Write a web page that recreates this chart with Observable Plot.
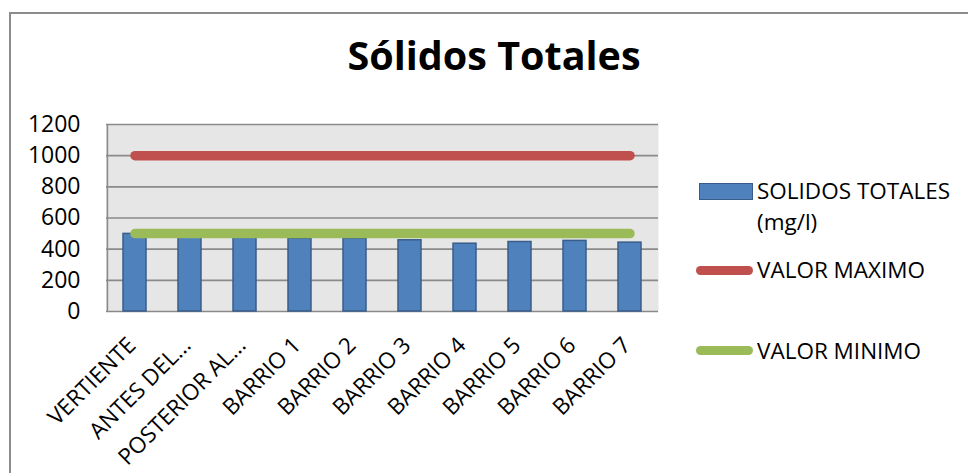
<!DOCTYPE html>
<html>
<head>
<meta charset="utf-8">
<script src="https://cdn.jsdelivr.net/npm/d3@7"></script>
<script src="https://cdn.jsdelivr.net/npm/@observablehq/plot@0.6"></script>
<style>
  html, body { margin: 0; padding: 0; background: #fff; }
  #wrap { position: relative; width: 968px; height: 473px; overflow: hidden; font-family: "Open Sans", Lato, sans-serif; }
  #frame { position: absolute; left: 9px; top: 12px; width: 1000px; height: 500px; border-left: 2px solid #8c8c8c; border-top: 2px solid #8c8c8c; }
  #title { position: absolute; left: 0; width: 988px; top: 29px; text-align: center; font-weight: bold; font-size: 39.5px; line-height: 52px; color: #000; }
  #chart { position: absolute; left: 0; top: 0; }
  .leg { position: absolute; font-size: 22.5px; color: #000; line-height: 31px; white-space: nowrap; }
  .sw { position: absolute; }
</style>
</head>
<body>
<div id="wrap">
  <div id="frame"></div>
  <div id="chart"></div>
  <div id="title">Sólidos Totales</div>
  <div id="legend"></div>
</div>
<script>
const categories = ["VERTIENTE", "ANTES DEL…", "POSTERIOR AL…", "BARRIO 1", "BARRIO 2", "BARRIO 3", "BARRIO 4", "BARRIO 5", "BARRIO 6", "BARRIO 7"];
const solidos = [498, 475, 472, 468, 468, 457, 435, 446, 453, 442];
const valorMaximo = [1000, 1000, 1000, 1000, 1000, 1000, 1000, 1000, 1000, 1000];
const valorMinimo = [500, 500, 500, 500, 500, 500, 500, 500, 500, 500];
const yTicks = [0, 200, 400, 600, 800, 1000, 1200];
const seriesNames = ["SOLIDOS TOTALES (mg/l)", "VALOR MAXIMO", "VALOR MINIMO"];
const colors = {bar: "#4F81BD", barStroke: "#385D8A", max: "#C0504D", min: "#9BBB59"};

const rows = categories.map((c, i) => ({cat: c, v: solidos[i], max: valorMaximo[i], min: valorMinimo[i]}));

const chart = Plot.plot({
  width: 968,
  height: 473,
  marginLeft: 106,
  marginRight: 310,
  marginTop: 124,
  marginBottom: 162,
  style: {fontFamily: "'Open Sans', Lato, sans-serif", color: "#000", background: "transparent", overflow: "visible"},
  x: {domain: categories, paddingInner: 0.58, paddingOuter: 0.29, label: null},
  y: {domain: [0, 1200], ticks: yTicks, label: null},
  marks: [
    Plot.frame({fill: "#e6e6e6"}),
    Plot.gridY(yTicks, {stroke: "#8a8a8a", strokeOpacity: 1, strokeWidth: 1.6}),
    Plot.ruleX([0], {x: () => categories[0], y1: 0, y2: 1200, stroke: "#8a8a8a", strokeWidth: 1.6, dx: -27.6}),
    Plot.barY(rows, {x: "cat", y: "v", fill: colors.bar, stroke: colors.barStroke, strokeWidth: 1.5}),
    Plot.lineY(rows, {x: "cat", y: "max", stroke: colors.max, strokeWidth: 9.5, strokeLinecap: "round"}),
    Plot.lineY(rows, {x: "cat", y: "min", stroke: colors.min, strokeWidth: 9.5, strokeLinecap: "round"}),
    Plot.axisY(yTicks, {tickSize: 0, tickPadding: 26, fontSize: 23, fill: "#000", tickFormat: d => String(d)}),
    Plot.axisX({tickSize: 0, tickPadding: 18, tickRotate: -45, fontSize: 22.5, fill: "#000", dx: -3, dy: 12})
  ]
});
document.getElementById("chart").appendChild(chart);

const legend = document.getElementById("legend");
legend.innerHTML = `
  <div class="sw" style="left:699px;top:183px;width:52px;height:15px;background:${colors.bar};border:1px solid ${colors.barStroke};"></div>
  <div class="leg" style="left:757px;top:175px;">SOLIDOS TOTALES<br>(mg/l)</div>
  <div class="sw" style="left:696px;top:266px;width:57px;height:9px;border-radius:5px;background:${colors.max};"></div>
  <div class="leg" style="left:757px;top:254px;">${seriesNames[1]}</div>
  <div class="sw" style="left:696px;top:346px;width:57px;height:9px;border-radius:5px;background:${colors.min};"></div>
  <div class="leg" style="left:757px;top:335px;">${seriesNames[2]}</div>
`;
</script>
</body>
</html>
